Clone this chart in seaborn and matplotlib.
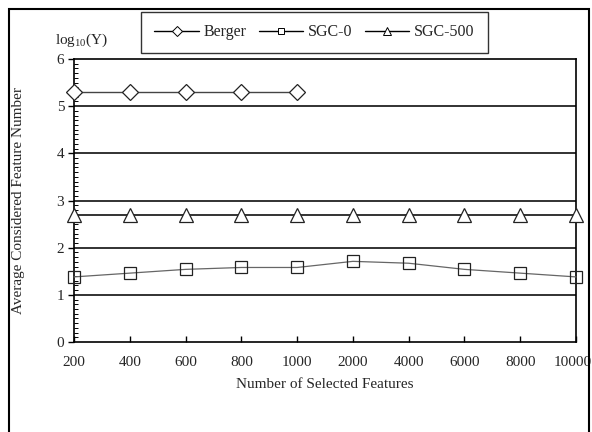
import matplotlib
matplotlib.use("Agg")
import matplotlib.pyplot as plt
import matplotlib.transforms as mtransforms
import seaborn as sns
import numpy as np
import pandas as pd
from matplotlib.patches import Rectangle
from matplotlib.ticker import MultipleLocator
from matplotlib.lines import Line2D

x_labels = ["200", "400", "600", "800", "1000", "2000", "4000", "6000", "8000", "10000"]
berger = [5.3, 5.3, 5.3, 5.3, 5.3]
sgc0 = [1.38, 1.46, 1.54, 1.58, 1.58, 1.71, 1.67, 1.54, 1.46, 1.38]
sgc500 = [2.7, 2.7, 2.7, 2.7, 2.7, 2.7, 2.7, 2.7, 2.7, 2.7]

sns.set_theme(style="white")
plt.rcParams['font.family'] = ['Liberation Serif', 'DejaVu Serif']
plt.rcParams['mathtext.fontset'] = 'custom'
plt.rcParams['mathtext.rm'] = 'Liberation Serif'
plt.rcParams['mathtext.it'] = 'Liberation Serif:italic'

fig = plt.figure(figsize=(5.92, 4.32), dpi=100)
ax = fig.add_axes([74/592, 1-342/432, (576-74)/592, (342-59)/432])

df_b = pd.DataFrame({"x": np.arange(len(berger)), "y": berger})
df_0 = pd.DataFrame({"x": np.arange(len(sgc0)), "y": sgc0})
df_5 = pd.DataFrame({"x": np.arange(len(sgc500)), "y": sgc500})

for yv in [1, 2, 3, 4, 5]:
    ax.axhline(yv, color='#222222', lw=1.3, zorder=1)

sns.lineplot(data=df_b, x="x", y="y", ax=ax, color='#444444', lw=1.0,
             marker='D', markersize=8, markerfacecolor='white',
             markeredgecolor='#222222', markeredgewidth=0.9, zorder=3, clip_on=False)
sns.lineplot(data=df_0, x="x", y="y", ax=ax, color='#666666', lw=0.9,
             marker='s', markersize=9, markerfacecolor='none',
             markeredgecolor='#222222', markeredgewidth=0.9, zorder=3, clip_on=False)
sns.lineplot(data=df_5, x="x", y="y", ax=ax, color='#111111', lw=1.2,
             marker='^', markersize=10, markerfacecolor='white',
             markeredgecolor='#222222', markeredgewidth=0.9, zorder=3, clip_on=False)

ax.set_xlim(0, len(x_labels) - 1)
ax.set_ylim(0, 6)
ax.set_xticks(np.arange(len(x_labels)))
ax.set_xticklabels(x_labels)
ax.set_yticks([0, 1, 2, 3, 4, 5, 6])
ax.yaxis.set_minor_locator(MultipleLocator(0.1))
ax.tick_params(axis='x', direction='in', length=4, width=1, color='black',
               labelsize=11, pad=10, bottom=True)
ax.tick_params(axis='y', which='major', direction='out', length=4, width=1,
               color='black', labelsize=11, pad=3, left=True)
ax.tick_params(axis='y', which='minor', direction='in', length=3, width=0.7,
               color='black', left=True)
for s in ax.spines.values():
    s.set_color('black')
    s.set_linewidth(1.2)
ax.set_xlabel("")
ax.set_ylabel("")

# nudge the last tick label so it stays inside the figure
last = ax.get_xticklabels()[-1]
last.set_transform(last.get_transform() +
                   mtransforms.ScaledTranslation(-3/100, 0, fig.dpi_scale_trans))

fig.text(325/592, 1-384/432, "Number of Selected Features", ha='center', va='center', fontsize=11)
fig.text(19/592, 1-200/432, "Average Considered Feature Number", ha='center', va='center',
         rotation=90, fontsize=11)
fig.text(55/592, 1-40/432, r"$\mathrm{log}_{10}$(Y)", ha='left', va='center', fontsize=11)

handles = [
    Line2D([], [], color='black', lw=1.0, marker='D', markersize=5,
           markerfacecolor='white', markeredgecolor='black', markeredgewidth=0.7),
    Line2D([], [], color='black', lw=1.0, marker='s', markersize=5,
           markerfacecolor='white', markeredgecolor='black', markeredgewidth=0.7),
    Line2D([], [], color='black', lw=1.0, marker='^', markersize=6,
           markerfacecolor='white', markeredgecolor='black', markeredgewidth=0.7),
]
leg = fig.legend(handles, ["Berger", "SGC-0", "SGC-500"], ncol=3,
                 loc='center', bbox_to_anchor=(314.5/592, 1-32.5/432),
                 frameon=True, fancybox=False, fontsize=11.5, handlelength=2.8,
                 handletextpad=0.3, columnspacing=0.75, borderpad=0.8)
leg.get_frame().set_edgecolor('black')
leg.get_frame().set_linewidth(1.0)

fig.patches.append(Rectangle((9/592, -0.05), (589-9)/592, 1-9/432+0.05,
                             transform=fig.transFigure, fill=False,
                             edgecolor='black', lw=1.5))

fig.savefig("out.png", dpi=100)
